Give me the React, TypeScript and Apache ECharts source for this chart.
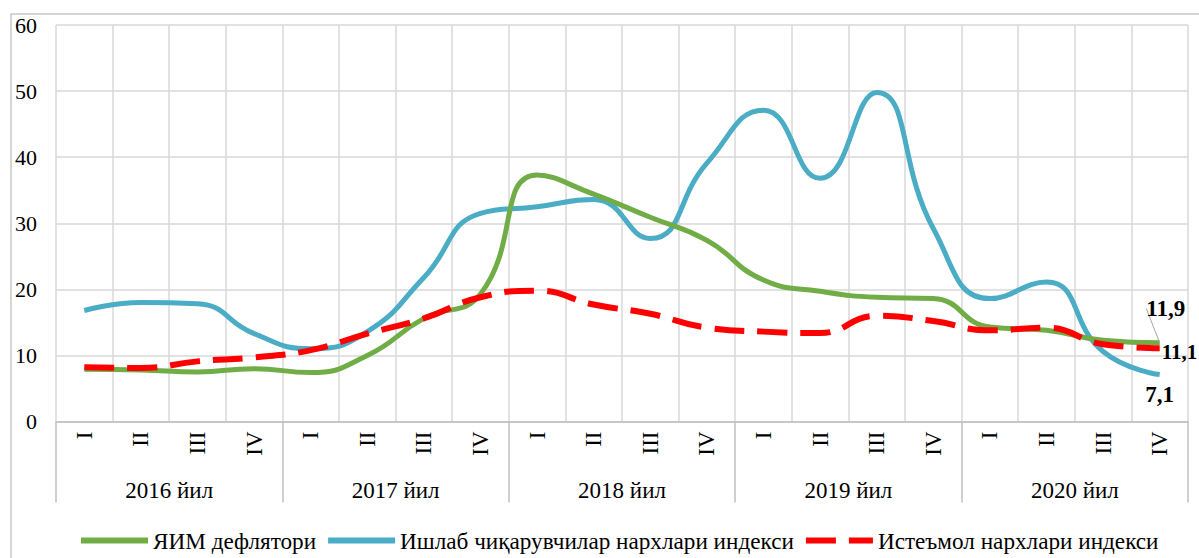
import React, { useEffect, useRef } from "react";
import * as echarts from "echarts";

const quarterLabels = [
  "I", "II", "III", "IV",
  "I", "II", "III", "IV",
  "I", "II", "III", "IV",
  "I", "II", "III", "IV",
  "I", "II", "III", "IV",
];
const yearLabels = ["2016 йил", "2017 йил", "2018 йил", "2019 йил", "2020 йил"];

const seriesNames = [
  "ЯИМ дефлятори",
  "Ишлаб чиқарувчилар нархлари индекси",
  "Истеъмол нархлари индекси",
];

const gdpDeflator = [7.9, 7.8, 7.5, 8.0, 7.4, 10.0, 15.6, 19.3, 37.3, 34.4, 30.9, 27.4, 21.4, 19.7, 18.8, 18.6, 14.3, 13.8, 12.3, 11.9];
const producerPrices = [16.8, 18.0, 17.8, 13.3, 11.0, 13.6, 21.8, 31.5, 32.5, 33.6, 27.7, 39.1, 47.1, 36.8, 49.8, 29.2, 18.6, 21.1, 10.6, 7.1];
const consumerPrices = [8.2, 8.1, 9.1, 9.7, 10.8, 13.3, 15.6, 18.8, 19.8, 17.7, 16.3, 14.2, 13.6, 13.4, 16.0, 15.2, 13.8, 14.2, 11.7, 11.1];

const yTicks = { min: 0, max: 60, interval: 10 };

const SERIF = "'Liberation Serif', 'Times New Roman', serif";
const fmt = (v: number) => String(v).replace(".", ",");

function withEndLabel(values: number[], label: any, labelLine?: any) {
  return values.map((v, i) =>
    i === values.length - 1
      ? { value: v, label: { show: true, ...label }, ...(labelLine ? { labelLine } : {}) }
      : v
  );
}

export default function App() {
  const ref = useRef<HTMLDivElement>(null);
  useEffect(() => {
    document.body.style.margin = "0";
    const chart = echarts.init(ref.current!, null, { renderer: "svg" });
    const endLabelStyle = {
      fontFamily: SERIF,
      fontSize: 23,
      fontWeight: "bold",
      color: "#000",
      formatter: (p: any) => fmt(p.value),
    };
    const common = {
      type: "line",
      smooth: 0.5,
      symbol: "circle",
      symbolSize: 0,
      showSymbol: true,
      xAxisIndex: 0,
      label: { show: false },
    };
    chart.setOption({
      animation: false,
      backgroundColor: "#fff",
      graphic: [
        {
          type: "rect",
          shape: { x: 11, y: 14, width: 1200, height: 560 },
          style: { fill: "none", stroke: "#c8c8c8", lineWidth: 1.5 },
          silent: true,
        },
      ],
      grid: { left: 56, right: 11, top: 25, bottom: 136.5, containLabel: false },
      legend: {
        left: 73,
        top: 524,
        itemWidth: 67,
        itemHeight: 10,
        itemGap: 9,
        data: seriesNames,
        textStyle: { fontFamily: SERIF, fontSize: 23.2, color: "#000" },
        lineStyle: { width: 6 },
        itemStyle: { opacity: 0 },
      },
      xAxis: [
        {
          type: "category",
          data: quarterLabels,
          boundaryGap: true,
          axisLine: { show: true, lineStyle: { color: "#bfbfbf", width: 1.5 } },
          axisTick: { show: false },
          splitLine: { show: true, interval: 0, lineStyle: { color: "#d9d9d9", width: 1.5 } },
          axisLabel: {
            interval: 0,
            rotate: 90,
            margin: 10,
            fontFamily: SERIF,
            fontSize: 23,
            color: "#000",
          },
        },
        {
          type: "category",
          data: yearLabels,
          position: "bottom",
          boundaryGap: true,
          axisLine: { show: false },
          axisTick: { show: true, interval: 0, length: 81, lineStyle: { color: "#bfbfbf", width: 1.5 } },
          splitLine: { show: false },
          axisLabel: {
            interval: 0,
            margin: 57,
            fontFamily: SERIF,
            fontSize: 23,
            color: "#000",
          },
        },
      ],
      yAxis: {
        type: "value",
        min: yTicks.min,
        max: yTicks.max,
        interval: yTicks.interval,
        axisLine: { show: false },
        axisTick: { show: false },
        splitLine: { show: true, lineStyle: { color: "#d9d9d9", width: 1.5 } },
        axisLabel: { margin: 19, fontFamily: SERIF, fontSize: 22, color: "#000" },
      },
      series: [
        {
          ...common,
          name: seriesNames[0],
          lineStyle: { color: "#70ad47", width: 5 },
          itemStyle: { color: "#70ad47" },
          data: withEndLabel(
            gdpDeflator,
            { ...endLabelStyle, position: "top", distance: 5 },
            { show: true, lineStyle: { color: "#a6a6a6", width: 1 } }
          ),
          labelLayout: { dx: 6, dy: -18 },
          z: 3,
        },
        {
          ...common,
          name: seriesNames[1],
          lineStyle: { color: "#4bacc6", width: 5 },
          itemStyle: { color: "#4bacc6" },
          data: withEndLabel(producerPrices, { ...endLabelStyle, position: "bottom", distance: 8 }),
          z: 2,
        },
        {
          ...common,
          name: seriesNames[2],
          lineStyle: { color: "#ff0000", width: 6, type: [30, 13], cap: "butt" },
          itemStyle: { color: "#ff0000" },
          data: withEndLabel(consumerPrices, {
            ...endLabelStyle,
            fontSize: 21,
            position: "right",
            distance: 2,
            offset: [0, 4],
          }),
          z: 4,
        },
      ],
    });
    return () => chart.dispose();
  }, []);
  return (
    <div
      ref={ref}
      style={{ position: "fixed", left: 0, top: 0, width: 1199, height: 558 }}
    />
  );
}
